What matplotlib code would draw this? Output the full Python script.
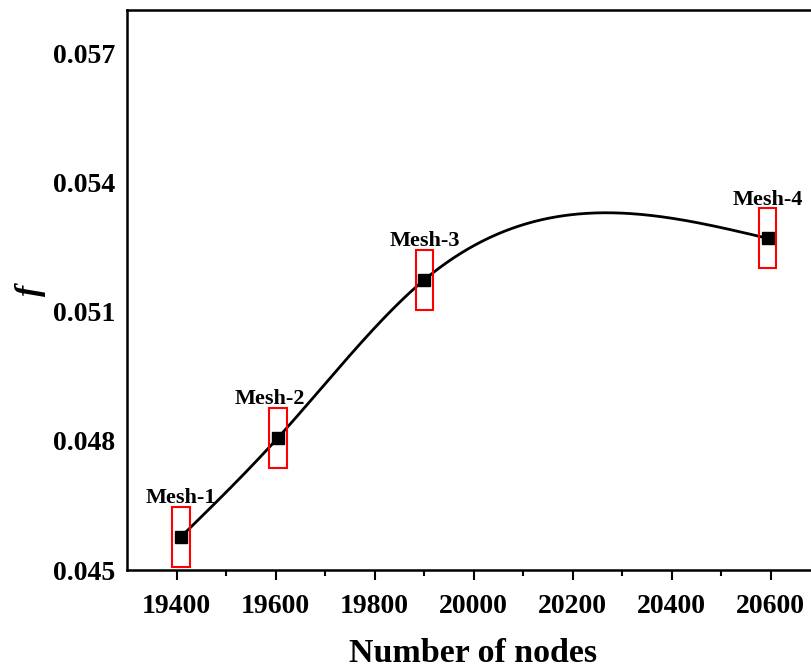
import numpy as np
import matplotlib
matplotlib.use("Agg")
import matplotlib.pyplot as plt
from matplotlib.patches import Rectangle

# mesh independence data
nodes = np.array([19409, 19605, 19901, 20594])
f_vals = np.array([0.04577, 0.04807, 0.05174, 0.05270])
labels = ["Mesh-1", "Mesh-2", "Mesh-3", "Mesh-4"]


def natural_spline(x, y, xs):
    # natural cubic spline (zero curvature at both ends)
    n = len(x)
    h = np.diff(x)
    d = np.diff(y) / h
    A = np.zeros((n, n))
    b = np.zeros(n)
    A[0, 0] = A[-1, -1] = 1.0
    for i in range(1, n - 1):
        A[i, i - 1] = h[i - 1]
        A[i, i] = 2 * (h[i - 1] + h[i])
        A[i, i + 1] = h[i]
        b[i] = 6 * (d[i] - d[i - 1])
    M = np.linalg.solve(A, b)
    k = np.clip(np.searchsorted(x, xs) - 1, 0, n - 2)
    t = xs - x[k]
    hk = h[k]
    return (y[k] + (d[k] - hk * (2 * M[k] + M[k + 1]) / 6) * t
            + M[k] * t**2 / 2 + (M[k + 1] - M[k]) * t**3 / (6 * hk))


plt.rcParams['font.family'] = ['Liberation Serif', 'DejaVu Serif']
plt.rcParams['font.weight'] = 'bold'

fig = plt.figure(figsize=(8.12, 6.71), dpi=100)
ax = fig.add_axes([127/812, 101/671, 693/812, 560/671])

xs = np.linspace(nodes[0], nodes[-1], 400)
ax.plot(xs, natural_spline(nodes, f_vals, xs), color='black', lw=2, zorder=2)
ax.plot(nodes, f_vals, 's', color='black', ms=9, zorder=3)

for i, (x, y, lab) in enumerate(zip(nodes, f_vals, labels)):
    ax.add_patch(Rectangle((x - 18, y - 0.0007), 36, 0.0014, fill=False,
                           edgecolor='red', lw=1.5, zorder=4))
    dx = -6 if i == 1 else 0
    ax.annotate(lab, (x, y), xytext=(dx, 24), textcoords='offset points',
                ha='center', va='baseline', fontsize=16, fontweight='bold')

ax.set_xlim(19300, 20700)
ax.set_ylim(0.045, 0.058)
ax.set_xticks([19400, 19600, 19800, 20000, 20200, 20400, 20600])
ax.set_xticks(np.arange(19500, 20700, 200), minor=True)
ax.set_yticks([0.045, 0.048, 0.051, 0.054, 0.057])
ax.set_yticklabels(["0.045", "0.048", "0.051", "0.054", "0.057"])

ax.tick_params(axis='x', which='major', direction='out', length=7, width=1.5,
               pad=10, labelsize=20)
ax.tick_params(axis='x', which='minor', direction='out', length=4, width=1.5)
ax.tick_params(axis='y', length=0, pad=8.5, labelsize=20)
for lab in ax.get_xticklabels() + ax.get_yticklabels():
    lab.set_fontweight('bold')
for sp in ax.spines.values():
    sp.set_linewidth(1.8)

ax.set_xlabel("Number of nodes", fontsize=24.5, fontweight='bold', labelpad=14)
ax.set_ylabel("f", fontsize=24, fontweight='bold', style='italic', labelpad=5)

fig.savefig("out.png", dpi=100)
